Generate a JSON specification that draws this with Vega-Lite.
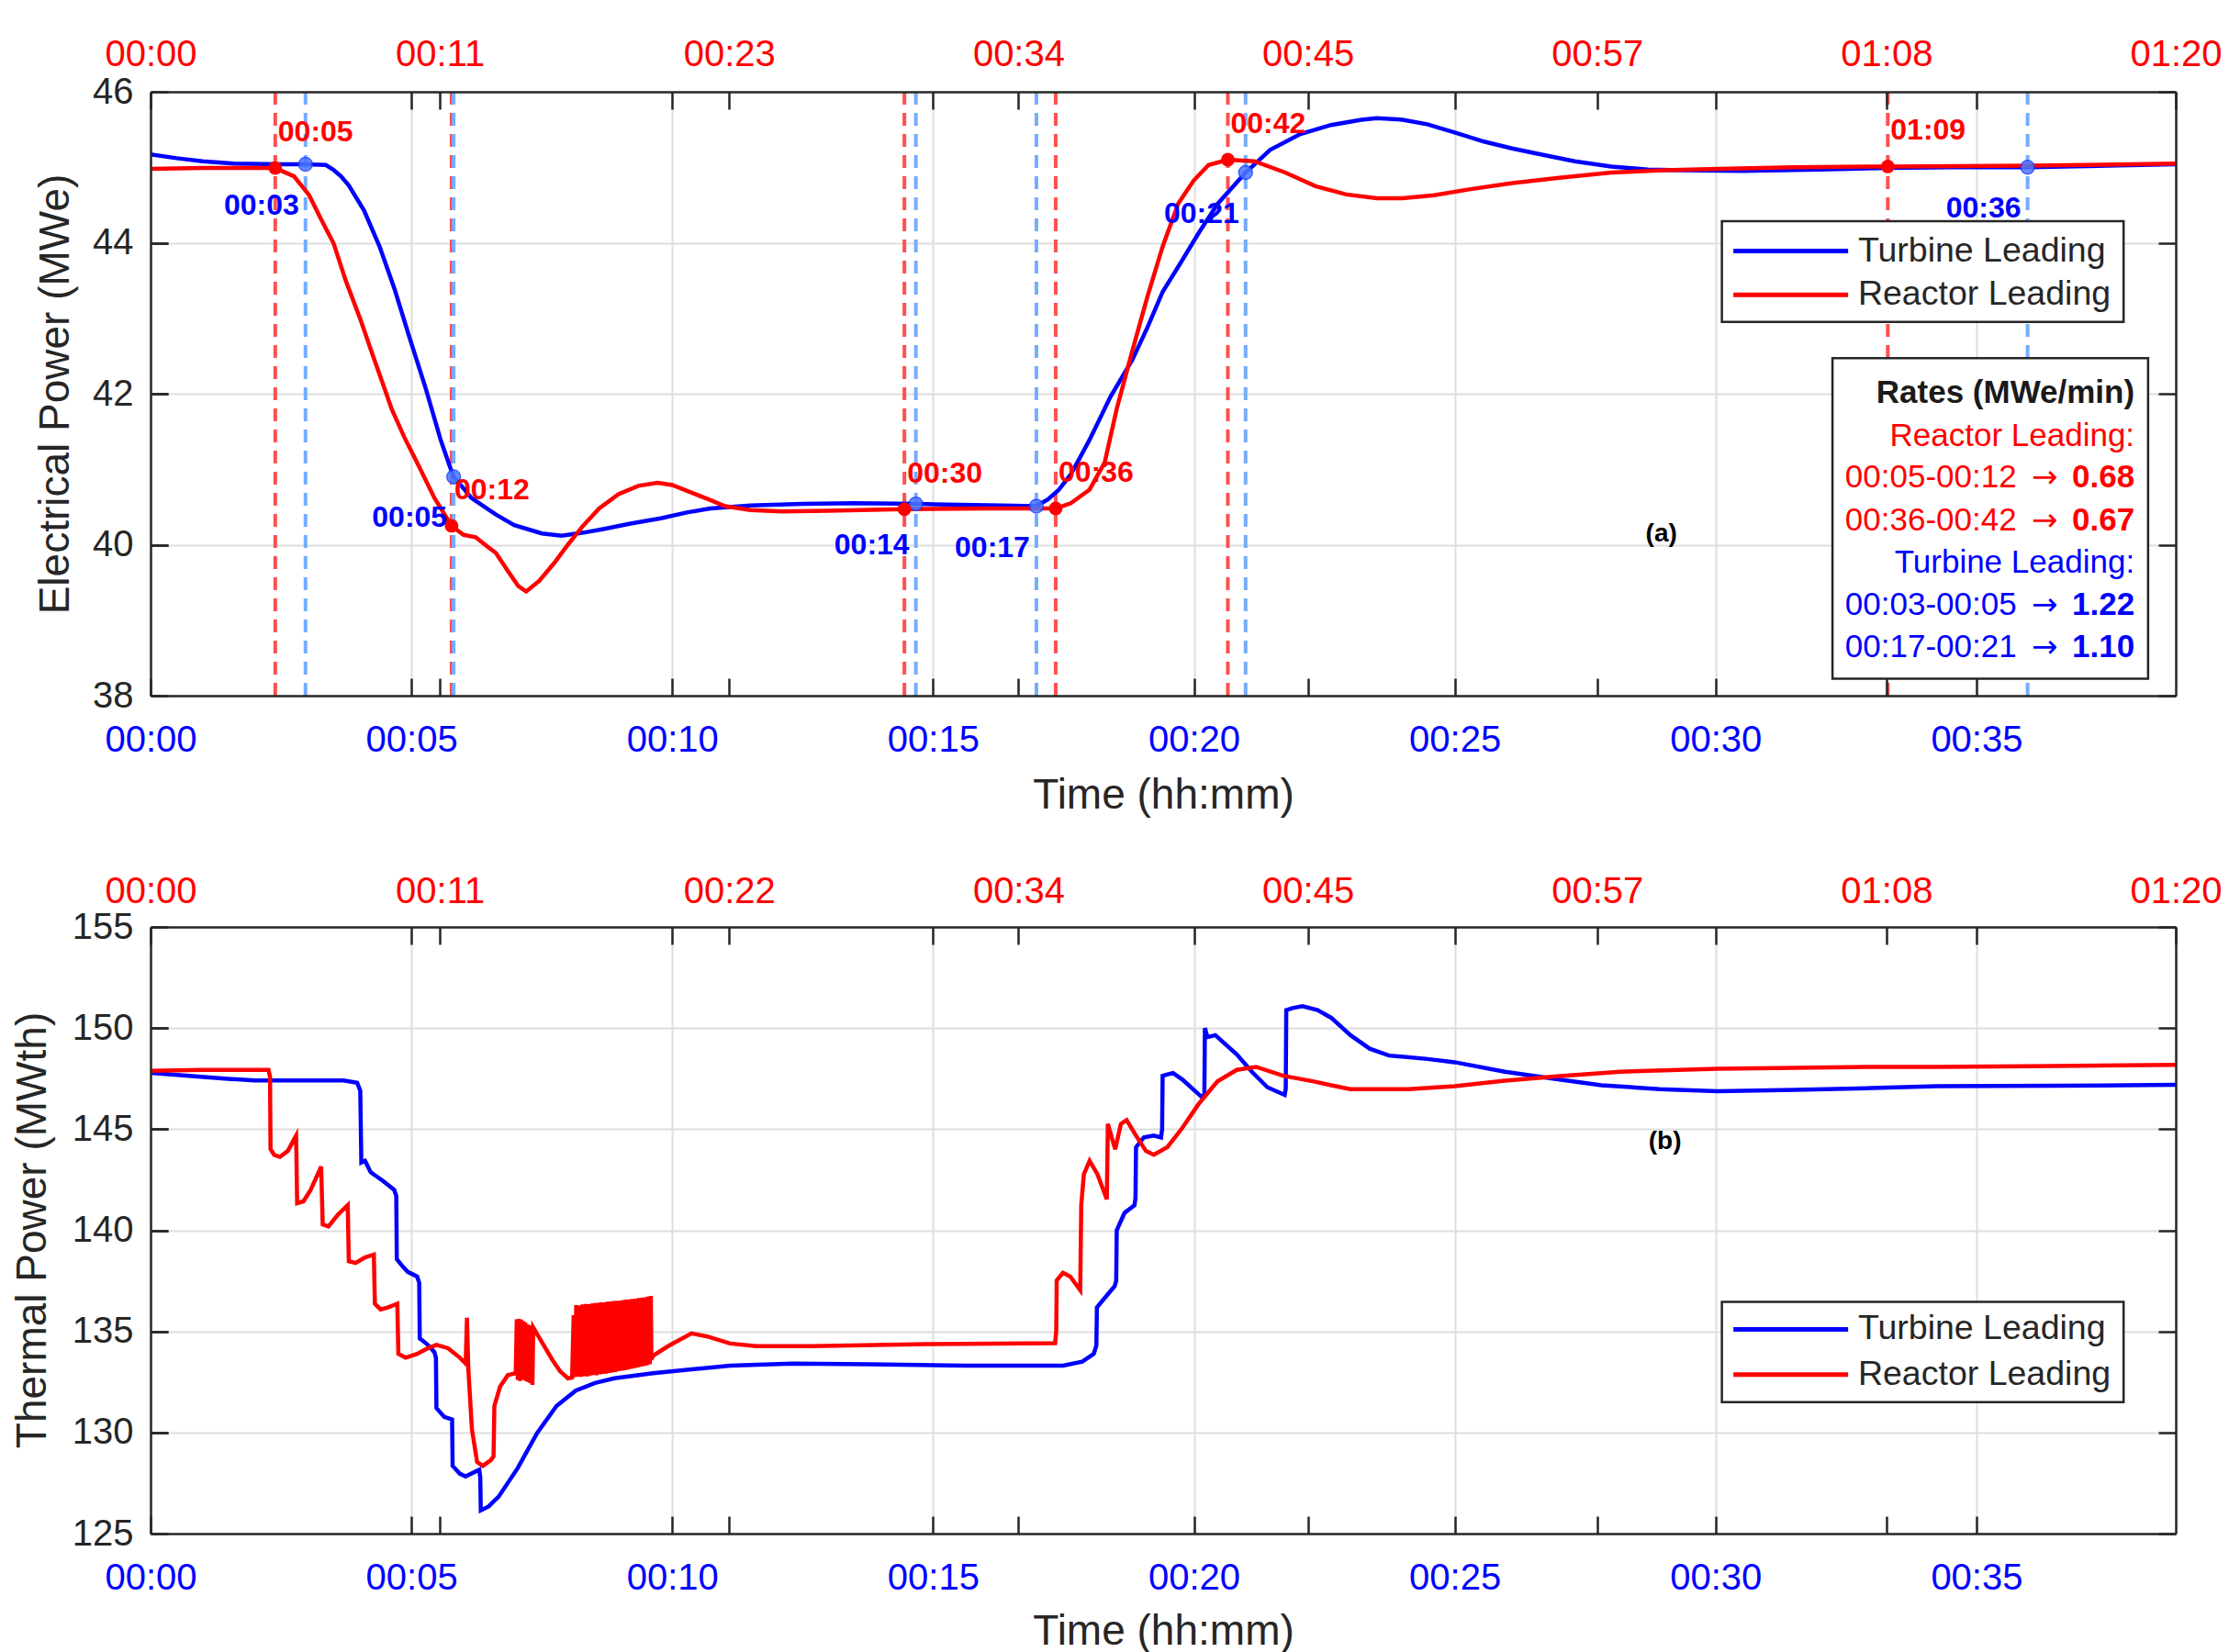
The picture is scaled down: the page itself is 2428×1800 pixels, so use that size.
{
  "$schema": "https://vega.github.io/schema/vega-lite/v6.json",
  "background": "white",
  "padding": {"left": 12, "top": 39, "right": 10, "bottom": 10},
  "spacing": 252,
  "bounds": "flush",
  "config": {
    "font": "Liberation Sans",
    "view": {"stroke": null},
    "axis": {"labelFont": "Liberation Sans", "labelFontSize": 40, "tickSize": -19, "tickWidth": 2.5, "tickColor": "#262626", "domainColor": "#262626", "domainWidth": 2.5, "labelFlush": false, "labelOverlap": false, "labelBound": false, "grid": false, "gridColor": "#dedede", "gridWidth": 2, "titleFont": "Liberation Sans", "titleFontSize": 46, "titleFontWeight": "normal", "titleColor": "#262626", "labelColor": "#262626"}
  },
  "datasets": {
    "elec_turbine": [
      {"t":0,"v":45.17},{"t":0.5,"v":45.12},{"t":1.0,"v":45.08},{"t":1.6,"v":45.05},{"t":2.5,"v":45.04},{"t":2.97,"v":45.04},{"t":3.36,"v":45.03},{"t":3.5,"v":44.97},{"t":3.65,"v":44.88},{"t":3.8,"v":44.76},{"t":4.09,"v":44.43},{"t":4.39,"v":43.95},{"t":4.68,"v":43.38},{"t":4.97,"v":42.73},{"t":5.27,"v":42.08},{"t":5.56,"v":41.39},{"t":5.74,"v":41.03},{"t":5.81,"v":40.9},{"t":6.15,"v":40.62},{"t":6.62,"v":40.4},{"t":6.97,"v":40.26},{"t":7.5,"v":40.15},{"t":7.88,"v":40.12},{"t":8.3,"v":40.16},{"t":8.7,"v":40.21},{"t":9.2,"v":40.28},{"t":9.78,"v":40.35},{"t":10.3,"v":40.43},{"t":10.73,"v":40.48},{"t":11.5,"v":40.52},{"t":12.5,"v":40.54},{"t":13.5,"v":40.55},{"t":14.69,"v":40.54},{"t":15.5,"v":40.53},{"t":16.3,"v":40.52},{"t":16.98,"v":40.51},{"t":17.2,"v":40.6},{"t":17.4,"v":40.72},{"t":17.64,"v":40.93},{"t":18.0,"v":41.39},{"t":18.4,"v":41.96},{"t":18.82,"v":42.45},{"t":19.11,"v":42.88},{"t":19.4,"v":43.35},{"t":19.76,"v":43.75},{"t":20.1,"v":44.14},{"t":20.46,"v":44.52},{"t":20.99,"v":44.93},{"t":21.46,"v":45.23},{"t":22.04,"v":45.44},{"t":22.63,"v":45.56},{"t":23.21,"v":45.63},{"t":23.5,"v":45.65},{"t":24.0,"v":45.63},{"t":24.47,"v":45.57},{"t":25.0,"v":45.46},{"t":25.56,"v":45.34},{"t":26.1,"v":45.25},{"t":26.65,"v":45.17},{"t":27.3,"v":45.08},{"t":28.0,"v":45.01},{"t":28.7,"v":44.97},{"t":29.37,"v":44.96},{"t":30.5,"v":44.95},{"t":32.0,"v":44.97},{"t":33.3,"v":44.99},{"t":34.5,"v":45.0},{"t":35.98,"v":45.0},{"t":37.5,"v":45.02},{"t":38.82,"v":45.04}
    ],
    "elec_reactor": [
      {"t":0,"v":44.98},{"t":1.0,"v":44.99},{"t":2.0,"v":44.99},{"t":2.39,"v":44.99},{"t":2.75,"v":44.88},{"t":3.04,"v":44.63},{"t":3.27,"v":44.31},{"t":3.51,"v":43.99},{"t":3.74,"v":43.5},{"t":4.03,"v":42.97},{"t":4.27,"v":42.49},{"t":4.5,"v":42.04},{"t":4.62,"v":41.8},{"t":4.86,"v":41.43},{"t":5.15,"v":41.03},{"t":5.44,"v":40.62},{"t":5.77,"v":40.25},{"t":6.0,"v":40.13},{"t":6.23,"v":40.1},{"t":6.45,"v":39.98},{"t":6.62,"v":39.89},{"t":6.85,"v":39.65},{"t":7.05,"v":39.45},{"t":7.2,"v":39.38},{"t":7.45,"v":39.52},{"t":7.74,"v":39.76},{"t":8.0,"v":40.0},{"t":8.29,"v":40.25},{"t":8.6,"v":40.48},{"t":8.97,"v":40.67},{"t":9.35,"v":40.78},{"t":9.72,"v":40.82},{"t":10.0,"v":40.79},{"t":10.33,"v":40.7},{"t":10.7,"v":40.6},{"t":11.01,"v":40.51},{"t":11.5,"v":40.46},{"t":12.1,"v":40.44},{"t":13.0,"v":40.45},{"t":14.45,"v":40.47},{"t":16.0,"v":40.48},{"t":17.35,"v":40.48},{"t":17.64,"v":40.55},{"t":18.0,"v":40.73},{"t":18.29,"v":41.09},{"t":18.52,"v":41.8},{"t":18.82,"v":42.57},{"t":19.11,"v":43.29},{"t":19.4,"v":43.95},{"t":19.7,"v":44.52},{"t":19.99,"v":44.82},{"t":20.28,"v":45.03},{"t":20.65,"v":45.1},{"t":21.16,"v":45.08},{"t":21.75,"v":44.93},{"t":22.33,"v":44.75},{"t":22.92,"v":44.64},{"t":23.51,"v":44.59},{"t":24.0,"v":44.59},{"t":24.6,"v":44.63},{"t":25.3,"v":44.71},{"t":26.1,"v":44.79},{"t":27.0,"v":44.86},{"t":28.0,"v":44.93},{"t":29.0,"v":44.96},{"t":30.06,"v":44.98},{"t":31.5,"v":45.0},{"t":33.3,"v":45.01},{"t":36.0,"v":45.02},{"t":38.82,"v":45.05}
    ],
    "therm_turbine": [
      {"t":0,"v":147.78},{"t":0.74,"v":147.64},{"t":1.48,"v":147.49},{"t":2.0,"v":147.41},{"t":3.0,"v":147.41},{"t":3.7,"v":147.41},{"t":3.96,"v":147.3},{"t":4.02,"v":146.9},{"t":4.04,"v":143.35},{"t":4.11,"v":143.44},{"t":4.22,"v":142.87},{"t":4.45,"v":142.45},{"t":4.67,"v":142.0},{"t":4.71,"v":141.7},{"t":4.72,"v":138.57},{"t":4.81,"v":138.28},{"t":4.93,"v":137.94},{"t":5.11,"v":137.71},{"t":5.15,"v":137.4},{"t":5.16,"v":134.65},{"t":5.3,"v":134.37},{"t":5.44,"v":133.98},{"t":5.47,"v":133.7},{"t":5.48,"v":131.21},{"t":5.63,"v":130.77},{"t":5.78,"v":130.64},{"t":5.79,"v":128.35},{"t":5.93,"v":127.96},{"t":6.04,"v":127.83},{"t":6.3,"v":128.16},{"t":6.32,"v":127.8},{"t":6.33,"v":126.15},{"t":6.48,"v":126.34},{"t":6.67,"v":126.82},{"t":7.04,"v":128.25},{"t":7.41,"v":129.97},{"t":7.78,"v":131.31},{"t":8.15,"v":132.07},{"t":8.52,"v":132.45},{"t":8.89,"v":132.68},{"t":9.63,"v":132.93},{"t":10.37,"v":133.12},{"t":11.11,"v":133.31},{"t":12.3,"v":133.41},{"t":13.78,"v":133.37},{"t":15.63,"v":133.31},{"t":17.49,"v":133.31},{"t":17.86,"v":133.5},{"t":18.08,"v":133.89},{"t":18.13,"v":134.3},{"t":18.14,"v":136.18},{"t":18.26,"v":136.56},{"t":18.48,"v":137.23},{"t":18.51,"v":137.5},{"t":18.52,"v":140.0},{"t":18.67,"v":140.86},{"t":18.86,"v":141.24},{"t":18.88,"v":141.6},{"t":18.89,"v":144.11},{"t":19.04,"v":144.59},{"t":19.23,"v":144.68},{"t":19.37,"v":144.59},{"t":19.39,"v":145.0},{"t":19.4,"v":147.64},{"t":19.6,"v":147.78},{"t":19.78,"v":147.45},{"t":20.15,"v":146.59},{"t":20.2,"v":146.7},{"t":20.21,"v":150.0},{"t":20.26,"v":149.55},{"t":20.41,"v":149.65},{"t":20.82,"v":148.7},{"t":21.11,"v":147.84},{"t":21.41,"v":147.07},{"t":21.74,"v":146.69},{"t":21.76,"v":147.0},{"t":21.77,"v":150.89},{"t":21.89,"v":150.99},{"t":22.08,"v":151.08},{"t":22.37,"v":150.89},{"t":22.63,"v":150.51},{"t":23.0,"v":149.65},{"t":23.37,"v":148.98},{"t":23.74,"v":148.64},{"t":24.48,"v":148.47},{"t":25.0,"v":148.31},{"t":25.96,"v":147.84},{"t":26.85,"v":147.51},{"t":27.81,"v":147.17},{"t":28.93,"v":146.98},{"t":30.04,"v":146.88},{"t":31.52,"v":146.94},{"t":33.0,"v":147.03},{"t":34.24,"v":147.13},{"t":36.5,"v":147.15},{"t":38.82,"v":147.19}
    ],
    "therm_reactor": [
      {"t":0,"v":147.89},{"t":1.0,"v":147.93},{"t":2.26,"v":147.93},{"t":2.29,"v":147.6},{"t":2.3,"v":144.01},{"t":2.37,"v":143.73},{"t":2.48,"v":143.63},{"t":2.63,"v":143.92},{"t":2.79,"v":144.68},{"t":2.81,"v":141.34},{"t":2.93,"v":141.43},{"t":3.07,"v":142.0},{"t":3.27,"v":143.15},{"t":3.3,"v":140.29},{"t":3.41,"v":140.19},{"t":3.59,"v":140.77},{"t":3.78,"v":141.24},{"t":3.8,"v":138.47},{"t":3.93,"v":138.38},{"t":4.11,"v":138.66},{"t":4.28,"v":138.8},{"t":4.3,"v":136.37},{"t":4.41,"v":136.09},{"t":4.55,"v":136.18},{"t":4.73,"v":136.37},{"t":4.75,"v":133.89},{"t":4.89,"v":133.7},{"t":5.11,"v":133.89},{"t":5.3,"v":134.15},{"t":5.48,"v":134.33},{"t":5.7,"v":134.17},{"t":5.93,"v":133.7},{"t":6.04,"v":133.41},{"t":6.065,"v":135.67},{"t":6.09,"v":133.2},{"t":6.16,"v":130.16},{"t":6.26,"v":128.54},{"t":6.37,"v":128.35},{"t":6.52,"v":128.63},{"t":6.575,"v":128.82},{"t":6.59,"v":131.31},{"t":6.7,"v":132.27},{"t":6.85,"v":132.84},{"t":7.0,"v":132.93},
      {"t":7.02,"v":135.6},{"t":7.04,"v":132.6},{"t":7.06,"v":135.62},{"t":7.08,"v":132.55},{"t":7.1,"v":135.58},{"t":7.12,"v":132.7},{"t":7.14,"v":135.5},{"t":7.16,"v":132.6},{"t":7.18,"v":135.45},{"t":7.2,"v":132.55},{"t":7.22,"v":135.35},{"t":7.24,"v":132.5},{"t":7.26,"v":135.3},{"t":7.28,"v":132.45},{"t":7.3,"v":135.25},{"t":7.32,"v":132.35},{"t":7.335,"v":135.2},
      {"t":7.48,"v":134.56},{"t":7.7,"v":133.6},{"t":7.85,"v":133.03},{"t":8.0,"v":132.68},{"t":8.08,"v":132.72},{"t":8.11,"v":135.8},
      {"t":8.13,"v":132.74},{"t":8.16,"v":136.3},{"t":8.19,"v":132.76},{"t":8.22,"v":136.28},{"t":8.25,"v":132.75},{"t":8.28,"v":136.33},{"t":8.31,"v":132.79},{"t":8.34,"v":136.35},{"t":8.37,"v":132.78},{"t":8.4,"v":136.34},{"t":8.43,"v":132.82},{"t":8.46,"v":136.38},{"t":8.49,"v":132.84},{"t":8.52,"v":136.4},{"t":8.55,"v":132.83},{"t":8.58,"v":136.41},{"t":8.61,"v":132.88},{"t":8.64,"v":136.44},{"t":8.67,"v":132.9},{"t":8.7,"v":136.43},{"t":8.73,"v":132.91},{"t":8.76,"v":136.47},{"t":8.79,"v":132.95},{"t":8.82,"v":136.48},{"t":8.85,"v":132.97},{"t":8.88,"v":136.5},{"t":8.91,"v":132.99},{"t":8.94,"v":136.52},{"t":8.97,"v":133.03},{"t":9.0,"v":136.51},{"t":9.03,"v":133.06},{"t":9.06,"v":136.55},{"t":9.09,"v":133.08},{"t":9.12,"v":136.57},{"t":9.15,"v":133.12},{"t":9.18,"v":136.58},{"t":9.21,"v":133.15},{"t":9.24,"v":136.61},{"t":9.27,"v":133.18},{"t":9.3,"v":136.62},{"t":9.33,"v":133.22},{"t":9.36,"v":136.65},{"t":9.39,"v":133.25},{"t":9.42,"v":136.66},{"t":9.45,"v":133.29},{"t":9.48,"v":136.69},{"t":9.51,"v":133.32},{"t":9.54,"v":136.72},{"t":9.57,"v":133.38},{"t":9.59,"v":136.75},
      {"t":9.6,"v":133.6},{"t":9.63,"v":133.79},{"t":9.92,"v":134.27},{"t":10.37,"v":134.9},{"t":10.67,"v":134.75},{"t":11.11,"v":134.4},{"t":11.61,"v":134.27},{"t":12.67,"v":134.27},{"t":14.89,"v":134.37},{"t":17.34,"v":134.42},{"t":17.36,"v":135.0},{"t":17.37,"v":137.52},{"t":17.49,"v":137.9},{"t":17.63,"v":137.71},{"t":17.82,"v":137.04},{"t":17.84,"v":141.24},{"t":17.89,"v":142.77},{"t":18.0,"v":143.44},{"t":18.15,"v":142.77},{"t":18.33,"v":141.53},{"t":18.35,"v":145.26},{"t":18.49,"v":144.01},{"t":18.6,"v":145.26},{"t":18.71,"v":145.45},{"t":18.89,"v":144.68},{"t":19.08,"v":143.92},{"t":19.23,"v":143.73},{"t":19.49,"v":144.11},{"t":19.78,"v":145.07},{"t":20.08,"v":146.21},{"t":20.45,"v":147.36},{"t":20.82,"v":147.93},{"t":21.19,"v":148.08},{"t":21.71,"v":147.64},{"t":22.3,"v":147.36},{"t":22.63,"v":147.17},{"t":23.0,"v":146.98},{"t":24.11,"v":146.98},{"t":25.0,"v":147.13},{"t":25.96,"v":147.4},{"t":27.07,"v":147.64},{"t":28.18,"v":147.84},{"t":30.04,"v":147.99},{"t":31.52,"v":148.03},{"t":33.0,"v":148.08},{"t":34.24,"v":148.08},{"t":36.5,"v":148.12},{"t":38.82,"v":148.18}
    ],
    "ann": [
      {"series":"Reactor Leading","t":2.39,"v":44.99,"label":"00:05"},
      {"series":"Reactor Leading","t":5.77,"v":40.25,"label":"00:12"},
      {"series":"Reactor Leading","t":14.45,"v":40.47,"label":"00:30"},
      {"series":"Reactor Leading","t":17.35,"v":40.48,"label":"00:36"},
      {"series":"Reactor Leading","t":20.65,"v":45.1,"label":"00:42"},
      {"series":"Reactor Leading","t":33.3,"v":45.01,"label":"01:09"},
      {"series":"Turbine Leading","t":2.97,"v":45.04,"label":"00:03"},
      {"series":"Turbine Leading","t":5.81,"v":40.9,"label":"00:05"},
      {"series":"Turbine Leading","t":14.67,"v":40.54,"label":"00:14"},
      {"series":"Turbine Leading","t":16.98,"v":40.51,"label":"00:17"},
      {"series":"Turbine Leading","t":20.99,"v":44.93,"label":"00:21"},
      {"series":"Turbine Leading","t":35.98,"v":45.0,"label":"00:36"}
    ],
    "rates": [
      {"part":"title","series":"Title","label":"Rates (MWe/min)","v":42.01},
      {"part":"head","series":"Reactor Leading","label":"Reactor Leading:","v":41.44},
      {"part":"row","series":"Reactor Leading","label":"00:05-00:12","value":"0.68","v":40.89},
      {"part":"row","series":"Reactor Leading","label":"00:36-00:42","value":"0.67","v":40.32},
      {"part":"head","series":"Turbine Leading","label":"Turbine Leading:","v":39.76},
      {"part":"row","series":"Turbine Leading","label":"00:03-00:05","value":"1.22","v":39.2},
      {"part":"row","series":"Turbine Leading","label":"00:17-00:21","value":"1.10","v":38.64}
    ]
  },
  "vconcat": [
    {
      "width": 2206,
      "height": 658,
      "resolve": {"axis": {"x": "independent", "y": "independent"}},
      "layer": [
        {
          "data": {"values": [{"t": 0, "v": 38}]},
          "mark": {"type": "point", "opacity": 0},
          "encoding": {
            "x": {"field": "t", "type": "quantitative", "scale": {"domain": [0, 38.82], "nice": false, "zero": false}, "axis": {"orient": "bottom", "values": [5, 10, 15, 20, 25, 30, 35], "labels": false, "ticks": false, "domain": false, "grid": true, "title": null, "zindex": 0}},
            "y": {"field": "v", "type": "quantitative", "scale": {"domain": [38, 46], "nice": false, "zero": false}, "axis": {"orient": "left", "values": [40, 42, 44], "labels": false, "ticks": false, "domain": false, "grid": true, "title": null, "zindex": 0}}
          }
        },
        {
          "data": {"values": [{"t": 0, "v": 38}]},
          "mark": {"type": "point", "opacity": 0},
          "encoding": {
            "x": {"field": "t", "type": "quantitative", "scale": {"domain": [0, 38.82], "nice": false, "zero": false}, "axis": {"orient": "bottom", "values": [0, 5, 10, 15, 20, 25, 30, 35], "labelExpr": "'00:' + (datum.value < 10 ? '0' : '') + datum.value", "labelColor": "#0000ff", "labelPadding": 47, "title": "Time (hh:mm)", "titleX": 1103, "titleY": 108, "titleBaseline": "middle", "titleAlign": "center", "zindex": 1}},
            "y": {"field": "v", "type": "quantitative", "scale": {"domain": [38, 46], "nice": false, "zero": false}, "axis": {"orient": "left", "values": [38, 40, 42, 44, 46], "labelPadding": 38, "title": "Electrical Power (MWe)", "titleX": -104, "titleY": 329, "titleAngle": -90, "titleBaseline": "middle", "titleAlign": "center", "zindex": 1}}
          }
        },
        {
          "data": {"values": [{"t": 0, "v": 38}]},
          "mark": {"type": "point", "opacity": 0},
          "encoding": {
            "x": {"field": "t", "type": "quantitative", "axis": {"orient": "top", "values": [0, 5.5457, 11.0914, 16.6371, 22.1829, 27.7286, 33.2743, 38.82], "labelExpr": "['00:00','00:11','00:23','00:34','00:45','00:57','01:08','01:20'][round(datum.value/5.5457)]", "labelColor": "#ff0000", "labelPadding": 40, "title": null, "zindex": 1}},
            "y": {"field": "v", "type": "quantitative", "axis": {"orient": "right", "values": [38, 40, 42, 44, 46], "labels": false, "title": null, "zindex": 1}}
          }
        },
        {
          "data": {"values": [{"t": 0, "v": 38}]},
          "mark": {"type": "point", "opacity": 0},
          "encoding": {
            "x": {"field": "t", "type": "quantitative", "axis": {"orient": "top", "values": [5, 10, 15, 20, 25, 30, 35], "labels": false, "domain": false, "title": null, "zindex": 1}}
          }
        },
        {
          "data": {"values": [{"t": 0, "v": 38}]},
          "mark": {"type": "point", "opacity": 0},
          "encoding": {
            "x": {"field": "t", "type": "quantitative", "axis": {"orient": "bottom", "values": [5.5457, 11.0914, 16.6371, 22.1829, 27.7286, 33.2743], "labels": false, "domain": false, "title": null, "zindex": 1}},
            "y": {"field": "v", "type": "quantitative", "axis": {"orient": "left", "values": [40, 42, 44], "labels": false, "domain": false, "title": null, "zindex": 1}}
          }
        },
        {
          "data": {"name": "ann"},
          "transform": [{"filter": "datum.series == 'Reactor Leading'"}],
          "mark": {"type": "rule", "color": "#ff5050", "strokeWidth": 4, "strokeDash": [14, 9]},
          "encoding": {"x": {"field": "t", "type": "quantitative", "axis": null}}
        },
        {
          "data": {"name": "ann"},
          "transform": [{"filter": "datum.series == 'Turbine Leading'"}],
          "mark": {"type": "rule", "color": "#74adff", "strokeWidth": 4, "strokeDash": [14, 9]},
          "encoding": {"x": {"field": "t", "type": "quantitative", "axis": null}}
        },
        {
          "data": {"name": "elec_turbine"},
          "mark": {"type": "line", "color": "#0000ff", "strokeWidth": 4.5, "clip": true},
          "encoding": {"x": {"field": "t", "type": "quantitative", "axis": null}, "y": {"field": "v", "type": "quantitative", "axis": null}}
        },
        {
          "data": {"name": "elec_reactor"},
          "mark": {"type": "line", "color": "#ff0000", "strokeWidth": 4.5, "clip": true},
          "encoding": {"x": {"field": "t", "type": "quantitative", "axis": null}, "y": {"field": "v", "type": "quantitative", "axis": null}}
        },
        {
          "data": {"name": "ann"},
          "transform": [{"filter": "datum.series == 'Turbine Leading'"}],
          "mark": {"type": "point", "filled": true, "size": 220, "fill": "#4a78ff", "stroke": "#1f3fff", "strokeWidth": 1.5, "opacity": 0.85},
          "encoding": {"x": {"field": "t", "type": "quantitative", "axis": null}, "y": {"field": "v", "type": "quantitative", "axis": null}}
        },
        {
          "data": {"name": "ann"},
          "transform": [{"filter": "datum.series == 'Reactor Leading'"}],
          "mark": {"type": "point", "filled": true, "size": 220, "color": "#ff0000", "opacity": 1},
          "encoding": {"x": {"field": "t", "type": "quantitative", "axis": null}, "y": {"field": "v", "type": "quantitative", "axis": null}}
        },
        {
          "data": {"name": "ann"},
          "transform": [{"filter": "datum.series == 'Turbine Leading'"}],
          "mark": {"type": "text", "fontWeight": "bold", "fontSize": 32, "color": "#0000ff", "align": "right", "baseline": "middle", "dx": -7, "dy": 45},
          "encoding": {"x": {"field": "t", "type": "quantitative", "axis": null}, "y": {"field": "v", "type": "quantitative", "axis": null}, "text": {"field": "label"}}
        },
        {
          "data": {"name": "ann"},
          "transform": [{"filter": "datum.series == 'Reactor Leading'"}],
          "mark": {"type": "text", "fontWeight": "bold", "fontSize": 32, "color": "#ff0000", "align": "left", "baseline": "middle", "dx": 3, "dy": -39},
          "encoding": {"x": {"field": "t", "type": "quantitative", "axis": null}, "y": {"field": "v", "type": "quantitative", "axis": null}, "text": {"field": "label"}}
        },
        {
          "data": {"values": [{}]},
          "mark": {"type": "rect", "fill": "white", "stroke": "#262626", "strokeWidth": 2.5},
          "encoding": {"x": {"datum": 30.12, "type": "quantitative", "axis": null}, "x2": {"datum": 37.82}, "y": {"datum": 44.286, "type": "quantitative", "axis": null}, "y2": {"datum": 42.95}}
        },
        {
          "data": {"values": [{}]},
          "mark": {"type": "rule", "color": "#0000ff", "strokeWidth": 5},
          "encoding": {"x": {"datum": 30.34, "type": "quantitative", "axis": null}, "x2": {"datum": 32.54}, "y": {"datum": 43.89, "type": "quantitative", "axis": null}}
        },
        {
          "data": {"values": [{}]},
          "mark": {"type": "rule", "color": "#ff0000", "strokeWidth": 5},
          "encoding": {"x": {"datum": 30.34, "type": "quantitative", "axis": null}, "x2": {"datum": 32.54}, "y": {"datum": 43.31, "type": "quantitative", "axis": null}}
        },
        {
          "data": {"values": [{"label": "Turbine Leading", "v": 43.89}, {"label": "Reactor Leading", "v": 43.31}]},
          "mark": {"type": "text", "fontSize": 37.5, "color": "#262626", "align": "left", "baseline": "middle"},
          "encoding": {"x": {"datum": 32.73, "type": "quantitative", "axis": null}, "y": {"field": "v", "type": "quantitative", "axis": null}, "text": {"field": "label"}}
        },
        {
          "data": {"values": [{}]},
          "mark": {"type": "rect", "fill": "white", "stroke": "#262626", "strokeWidth": 2.5},
          "encoding": {"x": {"datum": 32.24, "type": "quantitative", "axis": null}, "x2": {"datum": 38.29}, "y": {"datum": 42.47, "type": "quantitative", "axis": null}, "y2": {"datum": 38.225}}
        },
        {
          "data": {"name": "rates"},
          "transform": [{"filter": "datum.part == 'title'"}],
          "mark": {"type": "text", "fontSize": 35, "fontWeight": "bold", "color": "#1a1a1a", "align": "right", "baseline": "middle"},
          "encoding": {"x": {"datum": 38.03, "type": "quantitative", "axis": null}, "y": {"field": "v", "type": "quantitative", "axis": null}, "text": {"field": "label"}}
        },
        {
          "data": {"name": "rates"},
          "transform": [{"filter": "datum.part == 'head'"}],
          "mark": {"type": "text", "fontSize": 35, "align": "right", "baseline": "middle"},
          "encoding": {"x": {"datum": 38.03, "type": "quantitative", "axis": null}, "y": {"field": "v", "type": "quantitative", "axis": null}, "text": {"field": "label"}, "color": {"field": "series", "type": "nominal", "scale": {"domain": ["Turbine Leading", "Reactor Leading"], "range": ["#0000ff", "#ff0000"]}, "legend": null}}
        },
        {
          "data": {"name": "rates"},
          "transform": [{"filter": "datum.part == 'row'"}],
          "mark": {"type": "text", "fontSize": 35, "align": "right", "baseline": "middle"},
          "encoding": {"x": {"datum": 35.77, "type": "quantitative", "axis": null}, "y": {"field": "v", "type": "quantitative", "axis": null}, "text": {"field": "label"}, "color": {"field": "series", "type": "nominal", "legend": null}}
        },
        {
          "data": {"name": "rates"},
          "transform": [{"filter": "datum.part == 'row'"}],
          "mark": {"type": "text", "text": "→", "font": "DejaVu Sans", "fontSize": 34, "align": "center", "baseline": "middle", "dy": 1},
          "encoding": {"x": {"datum": 36.31, "type": "quantitative", "axis": null}, "y": {"field": "v", "type": "quantitative", "axis": null}, "color": {"field": "series", "type": "nominal", "legend": null}}
        },
        {
          "data": {"name": "rates"},
          "transform": [{"filter": "datum.part == 'row'"}],
          "mark": {"type": "text", "fontSize": 35, "fontWeight": "bold", "align": "right", "baseline": "middle"},
          "encoding": {"x": {"datum": 38.03, "type": "quantitative", "axis": null}, "y": {"field": "v", "type": "quantitative", "axis": null}, "text": {"field": "value"}, "color": {"field": "series", "type": "nominal", "legend": null}}
        },
        {
          "data": {"values": [{"label": "(a)"}]},
          "mark": {"type": "text", "fontSize": 28, "fontWeight": "bold", "color": "#000000", "align": "center", "baseline": "middle"},
          "encoding": {"x": {"datum": 28.96, "type": "quantitative", "axis": null}, "y": {"datum": 40.14, "type": "quantitative", "axis": null}, "text": {"field": "label"}}
        }
      ]
    },
    {
      "width": 2206,
      "height": 661,
      "resolve": {"axis": {"x": "independent", "y": "independent"}},
      "layer": [
        {
          "data": {"values": [{"t": 0, "v": 125}]},
          "mark": {"type": "point", "opacity": 0},
          "encoding": {
            "x": {"field": "t", "type": "quantitative", "scale": {"domain": [0, 38.82], "nice": false, "zero": false}, "axis": {"orient": "bottom", "values": [5, 10, 15, 20, 25, 30, 35], "labels": false, "ticks": false, "domain": false, "grid": true, "title": null, "zindex": 0}},
            "y": {"field": "v", "type": "quantitative", "scale": {"domain": [125, 155], "nice": false, "zero": false}, "axis": {"orient": "left", "values": [130, 135, 140, 145, 150], "labels": false, "ticks": false, "domain": false, "grid": true, "title": null, "zindex": 0}}
          }
        },
        {
          "data": {"values": [{"t": 0, "v": 125}]},
          "mark": {"type": "point", "opacity": 0},
          "encoding": {
            "x": {"field": "t", "type": "quantitative", "scale": {"domain": [0, 38.82], "nice": false, "zero": false}, "axis": {"orient": "bottom", "values": [0, 5, 10, 15, 20, 25, 30, 35], "labelExpr": "'00:' + (datum.value < 10 ? '0' : '') + datum.value", "labelColor": "#0000ff", "labelPadding": 47, "title": "Time (hh:mm)", "titleX": 1103, "titleY": 106, "titleBaseline": "middle", "titleAlign": "center", "zindex": 1}},
            "y": {"field": "v", "type": "quantitative", "scale": {"domain": [125, 155], "nice": false, "zero": false}, "axis": {"orient": "left", "values": [125, 130, 135, 140, 145, 150, 155], "labelPadding": 38, "title": "Thermal Power (MWth)", "titleX": -129, "titleY": 330, "titleAngle": -90, "titleBaseline": "middle", "titleAlign": "center", "zindex": 1}}
          }
        },
        {
          "data": {"values": [{"t": 0, "v": 125}]},
          "mark": {"type": "point", "opacity": 0},
          "encoding": {
            "x": {"field": "t", "type": "quantitative", "axis": {"orient": "top", "values": [0, 5.5457, 11.0914, 16.6371, 22.1829, 27.7286, 33.2743, 38.82], "labelExpr": "['00:00','00:11','00:22','00:34','00:45','00:57','01:08','01:20'][round(datum.value/5.5457)]", "labelColor": "#ff0000", "labelPadding": 38, "title": null, "zindex": 1}},
            "y": {"field": "v", "type": "quantitative", "axis": {"orient": "right", "values": [125, 130, 135, 140, 145, 150, 155], "labels": false, "title": null, "zindex": 1}}
          }
        },
        {
          "data": {"values": [{"t": 0, "v": 125}]},
          "mark": {"type": "point", "opacity": 0},
          "encoding": {
            "x": {"field": "t", "type": "quantitative", "axis": {"orient": "top", "values": [5, 10, 15, 20, 25, 30, 35], "labels": false, "domain": false, "title": null, "zindex": 1}}
          }
        },
        {
          "data": {"values": [{"t": 0, "v": 125}]},
          "mark": {"type": "point", "opacity": 0},
          "encoding": {
            "x": {"field": "t", "type": "quantitative", "axis": {"orient": "bottom", "values": [5.5457, 11.0914, 16.6371, 22.1829, 27.7286, 33.2743], "labels": false, "domain": false, "title": null, "zindex": 1}},
            "y": {"field": "v", "type": "quantitative", "axis": {"orient": "left", "values": [130, 135, 140, 145, 150], "labels": false, "domain": false, "title": null, "zindex": 1}}
          }
        },
        {
          "data": {"name": "therm_turbine"},
          "mark": {"type": "line", "color": "#0000ff", "strokeWidth": 4.5, "clip": true},
          "encoding": {"x": {"field": "t", "type": "quantitative", "axis": null}, "y": {"field": "v", "type": "quantitative", "axis": null}}
        },
        {
          "data": {"name": "therm_reactor"},
          "mark": {"type": "line", "color": "#ff0000", "strokeWidth": 4.5, "clip": true},
          "encoding": {"x": {"field": "t", "type": "quantitative", "axis": null}, "y": {"field": "v", "type": "quantitative", "axis": null}}
        },
        {
          "data": {"values": [{}]},
          "mark": {"type": "rect", "fill": "white", "stroke": "#262626", "strokeWidth": 2.5},
          "encoding": {"x": {"datum": 30.12, "type": "quantitative", "axis": null}, "x2": {"datum": 37.82}, "y": {"datum": 136.46, "type": "quantitative", "axis": null}, "y2": {"datum": 131.5}}
        },
        {
          "data": {"values": [{}]},
          "mark": {"type": "rule", "color": "#0000ff", "strokeWidth": 5},
          "encoding": {"x": {"datum": 30.34, "type": "quantitative", "axis": null}, "x2": {"datum": 32.54}, "y": {"datum": 135.1, "type": "quantitative", "axis": null}}
        },
        {
          "data": {"values": [{}]},
          "mark": {"type": "rule", "color": "#ff0000", "strokeWidth": 5},
          "encoding": {"x": {"datum": 30.34, "type": "quantitative", "axis": null}, "x2": {"datum": 32.54}, "y": {"datum": 132.86, "type": "quantitative", "axis": null}}
        },
        {
          "data": {"values": [{"label": "Turbine Leading", "v": 135.1}, {"label": "Reactor Leading", "v": 132.86}]},
          "mark": {"type": "text", "fontSize": 37.5, "color": "#262626", "align": "left", "baseline": "middle"},
          "encoding": {"x": {"datum": 32.73, "type": "quantitative", "axis": null}, "y": {"field": "v", "type": "quantitative", "axis": null}, "text": {"field": "label"}}
        },
        {
          "data": {"values": [{"label": "(b)"}]},
          "mark": {"type": "text", "fontSize": 28, "fontWeight": "bold", "color": "#000000", "align": "center", "baseline": "middle"},
          "encoding": {"x": {"datum": 29.03, "type": "quantitative", "axis": null}, "y": {"datum": 144.4, "type": "quantitative", "axis": null}, "text": {"field": "label"}}
        }
      ]
    }
  ]
}
